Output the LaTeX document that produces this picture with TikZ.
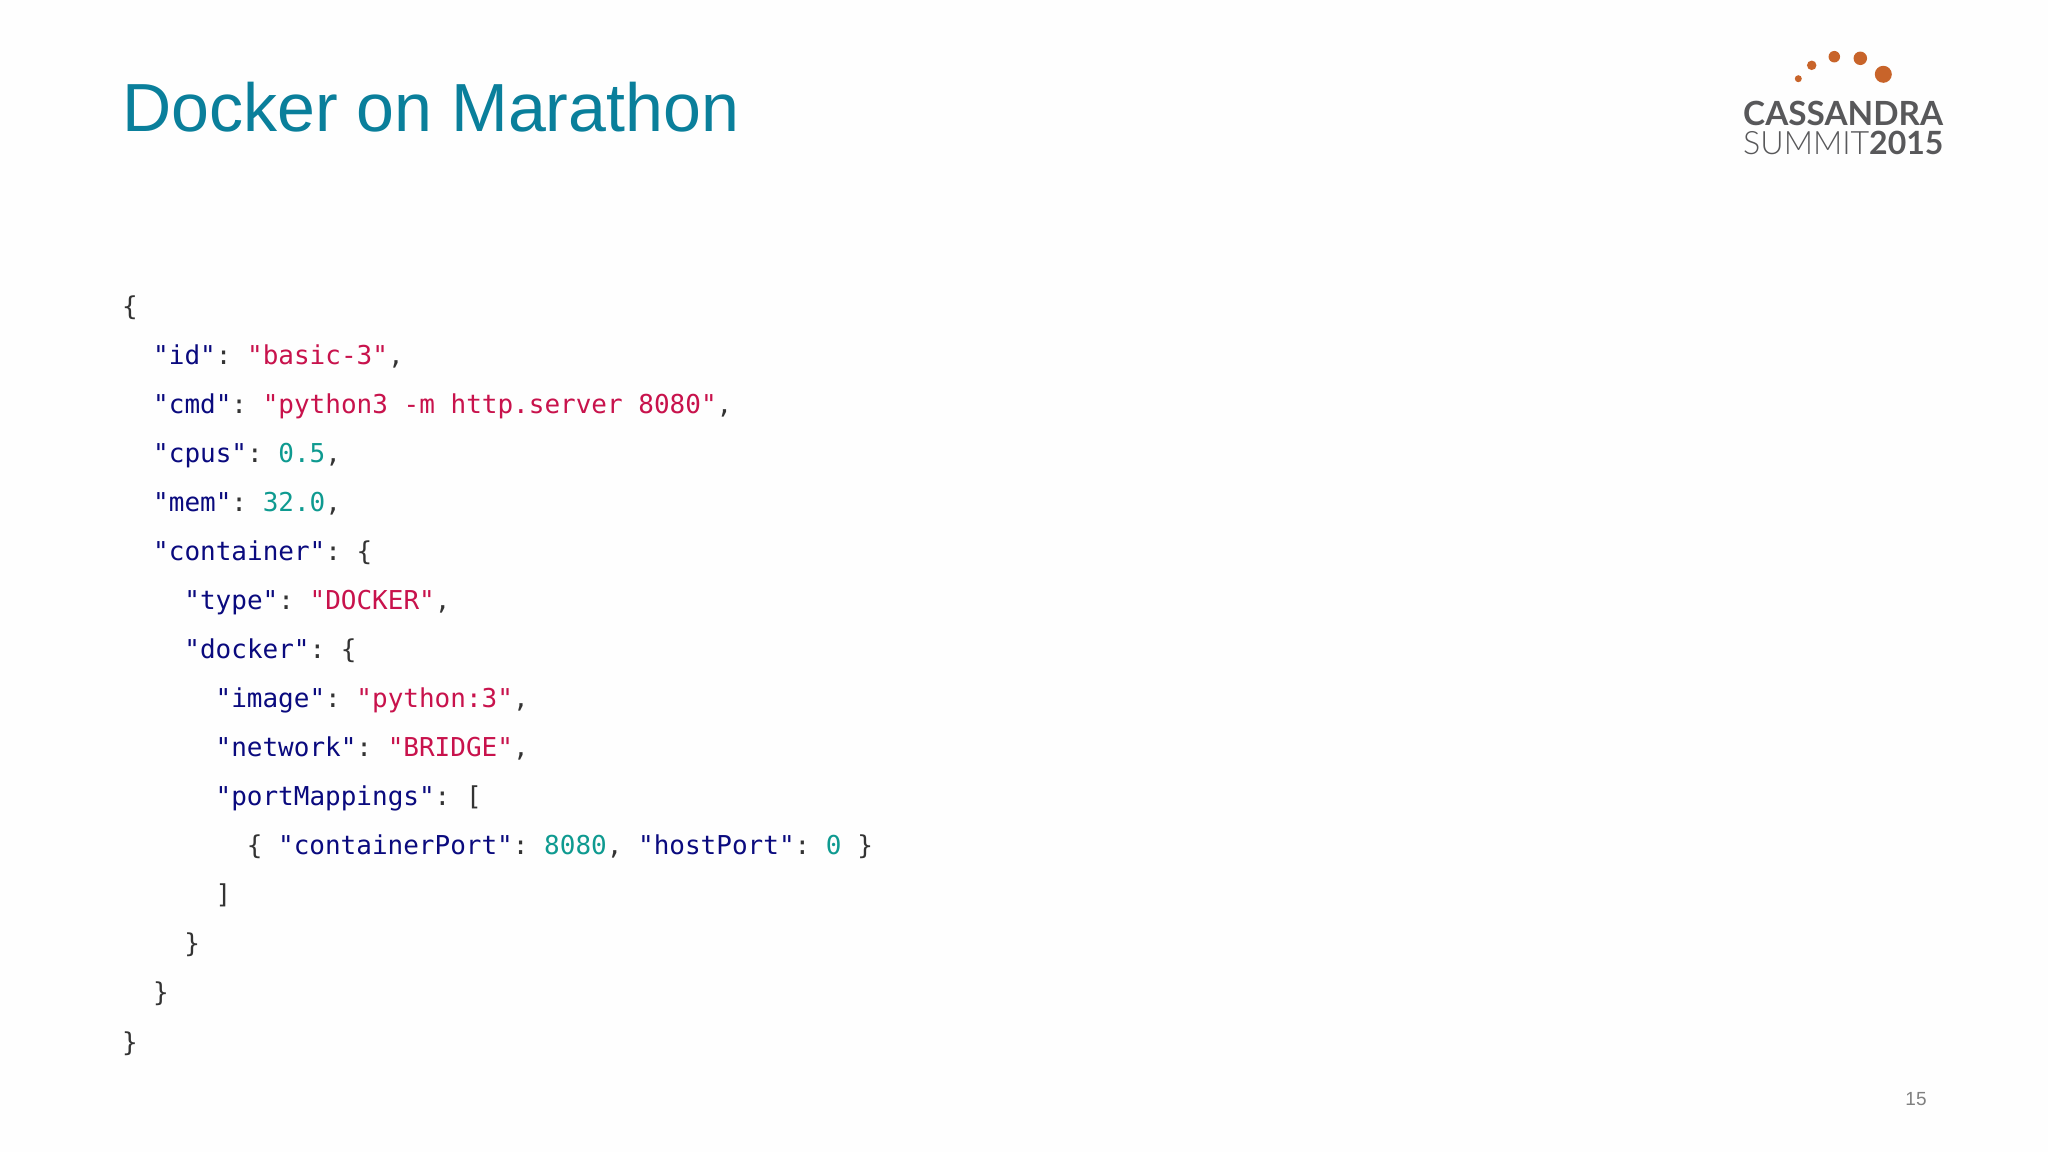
\documentclass[tikz,border=0pt]{standalone}
\usepackage{fontspec}
\setmainfont{Liberation Sans}
\frenchspacing
\newfontfamily\codefont{DejaVu Sans Mono}
\newfontfamily\logofont{Lato}
\newfontfamily\logolight{Lato Light}
\definecolor{titleteal}{HTML}{0A7F9B}
\definecolor{keyblue}{HTML}{0A0A7E}
\definecolor{strred}{HTML}{C8124C}
\definecolor{numteal}{HTML}{0E9A90}
\definecolor{punct}{HTML}{333333}
\definecolor{logogray}{HTML}{58585A}
\definecolor{logoorange}{HTML}{C8642A}
\newcommand{\K}[1]{\textcolor{keyblue}{#1}}
\newcommand{\Sv}[1]{\textcolor{strred}{#1}}
\newcommand{\N}[1]{\textcolor{numteal}{#1}}
\tikzset{
  codeline/.style={anchor=base west,inner sep=0pt,outer sep=0pt,text=punct,
    font=\frenchspacing\codefont\fontsize{26}{26}\selectfont},
  dot/.style={circle,fill=logoorange,inner sep=0pt,minimum size=#1},
  logotext/.style={anchor=base west,inner sep=0pt,text=logogray}
}
\begin{document}
\begin{tikzpicture}[x=1pt,y=-1pt]
\useasboundingbox (0,0) rectangle (2048,1152);
\fill[white!99.5!black] (0,0) rectangle (2048,1152);
\node[anchor=base west,inner sep=0pt,text=titleteal,font=\fontsize{68.1}{70}\selectfont] (title) at (122,131) {Docker on Marathon};
\node[codeline] (l1) at (122,315) {\{};
\node[codeline] (l2) at (153.2,364) {\K{"id"}: \Sv{"basic-3"},};
\node[codeline] (l3) at (153.2,413) {\K{"cmd"}: \Sv{"python3 -m http.server 8080"},};
\node[codeline] (l4) at (153.2,462) {\K{"cpus"}: \N{0.5},};
\node[codeline] (l5) at (153.2,511) {\K{"mem"}: \N{32.0},};
\node[codeline] (l6) at (153.2,560) {\K{"container"}: \{};
\node[codeline] (l7) at (184.4,609) {\K{"type"}: \Sv{"DOCKER"},};
\node[codeline] (l8) at (184.4,658.2) {\K{"docker"}: \{};
\node[codeline] (l9) at (215.6,707.3) {\K{"image"}: \Sv{"python:3"},};
\node[codeline] (l10) at (215.6,756.4) {\K{"network"}: \Sv{"BRIDGE"},};
\node[codeline] (l11) at (215.6,805.5) {\K{"portMappings"}: [};
\node[codeline] (l12) at (246.8,854.6) {\{ \K{"containerPort"}: \N{8080}, \K{"hostPort"}: \N{0} \}};
\node[codeline] (l13) at (215.6,903.7) {]};
\node[codeline] (l14) at (184.4,952.8) {\}};
\node[codeline] (l15) at (153.2,1001.9) {\}};
\node[codeline] (l16) at (122,1051) {\}};
\node[anchor=base,inner sep=0pt,text=black!50,font=\fontsize{19}{19}\selectfont] (page) at (1916,1105) {15};
\node[dot=7pt] (d1) at (1798.3,78.7) {};
\node[dot=9.5pt] (d2) at (1811.7,65.3) {};
\node[dot=11.5pt] (d3) at (1834.3,56.7) {};
\node[dot=13.5pt] (d4) at (1860.3,58.3) {};
\node[dot=17pt] (d5) at (1883.3,74.3) {};
\node[logotext,font=\logofont\bfseries\fontsize{33.3}{33}\selectfont] (cass) at (1743,125) {CASSANDRA};
\node[logotext,font=\logolight\fontsize{32.2}{33}\selectfont] (summit) at (1743,154) {SUMMIT};
\node[logotext,font=\logofont\bfseries\fontsize{32}{33}\selectfont] (year) at (1869,154) {2015};
\end{tikzpicture}
\end{document}
